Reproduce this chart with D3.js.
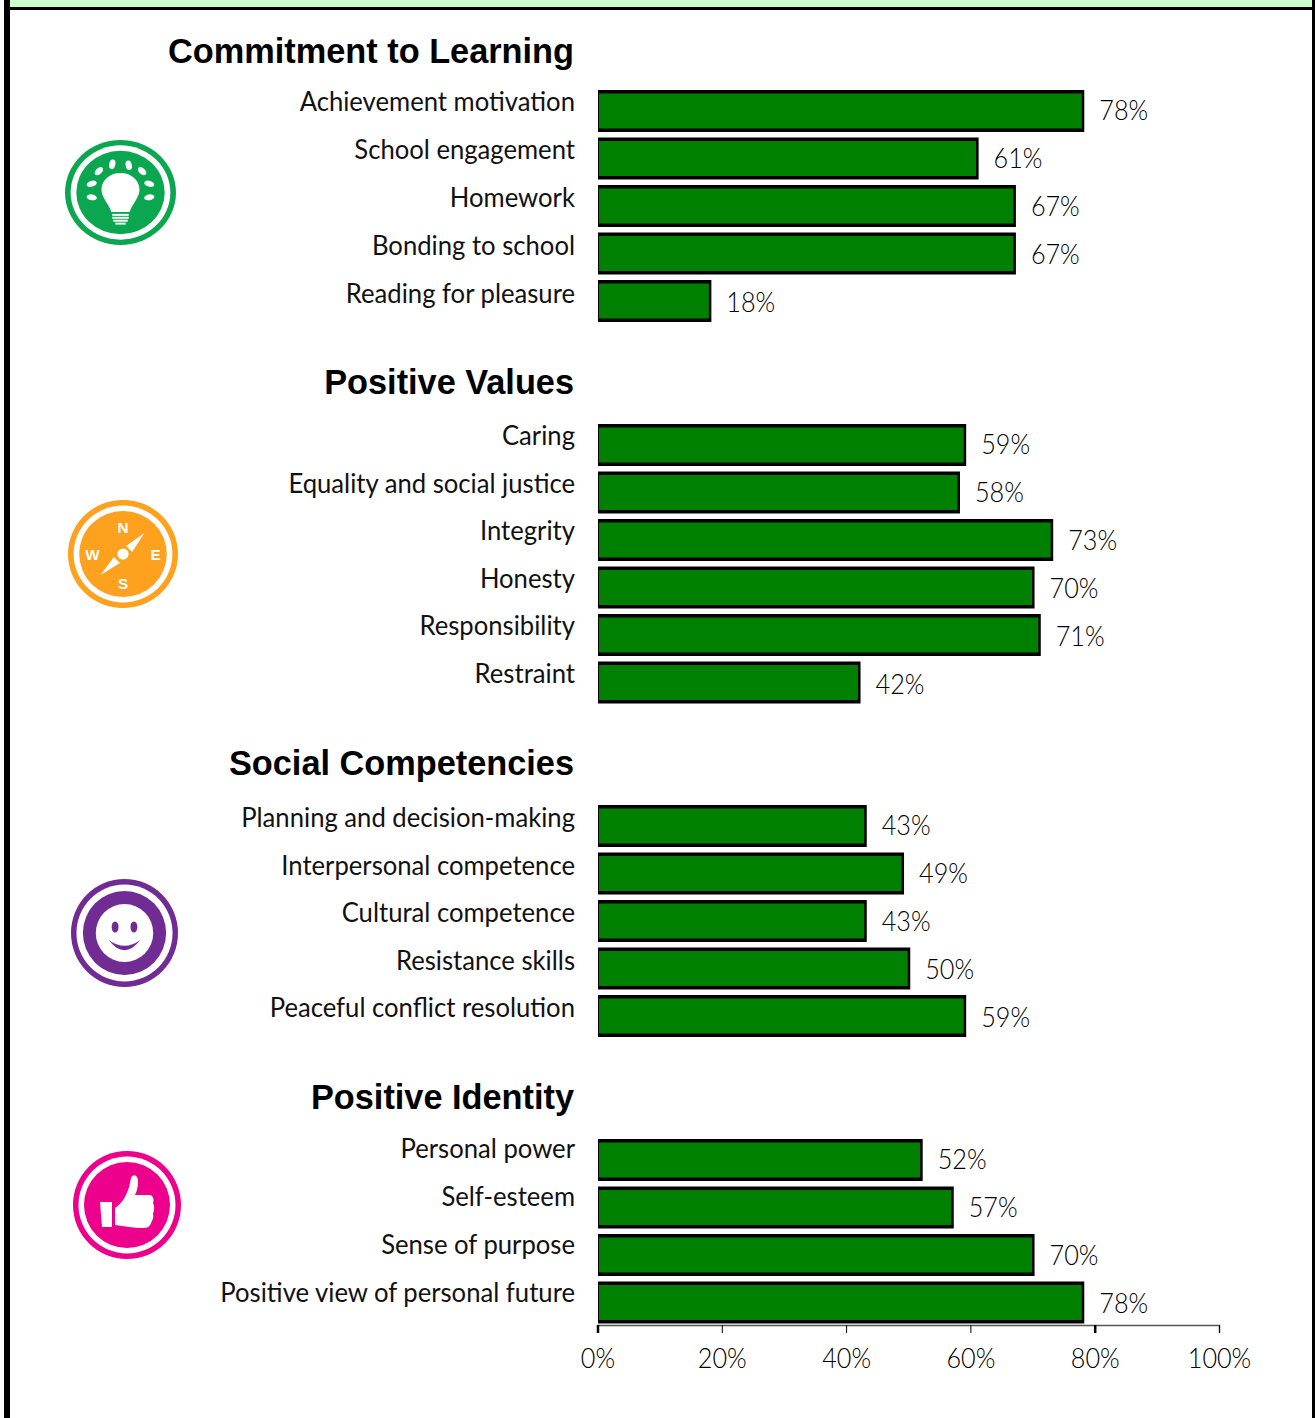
<!DOCTYPE html>
<html>
<head>
<meta charset="utf-8">
<script src="https://cdn.jsdelivr.net/npm/d3@7"></script>
<style>
html, body { margin: 0; padding: 0; background: #fff; overflow: hidden; }
svg { display: block; }
</style>
</head>
<body>
<svg class="chart" width="1315" height="1418"></svg>
<script>
// group titles
const groupTitles = ["Commitment to Learning", "Positive Values", "Social Competencies", "Positive Identity"];

// categories and values per group
const learningLabels = ["Achievement motivation", "School engagement", "Homework", "Bonding to school", "Reading for pleasure"];
const learningValues = [78, 61, 67, 67, 18];
const valuesLabels = ["Caring", "Equality and social justice", "Integrity", "Honesty", "Responsibility", "Restraint"];
const valuesValues = [59, 58, 73, 70, 71, 42];
const socialLabels = ["Planning and decision-making", "Interpersonal competence", "Cultural competence", "Resistance skills", "Peaceful conflict resolution"];
const socialValues = [43, 49, 43, 50, 59];
const identityLabels = ["Personal power", "Self-esteem", "Sense of purpose", "Positive view of personal future"];
const identityValues = [52, 57, 70, 78];

const axisTicks = [0, 20, 40, 60, 80, 100];

const svg = d3.select(".chart");

const W = 1315, H = 1418;
const barStep = 47.5;     // distance between bars
const valueStep = 48;     // value labels run on a slightly wider pitch than the bars
const barHeight = 42;
const labelRight = 575;   // right edge of category labels

const x = d3.scaleLinear().domain([0, 100]).range([597.5, 1219]);

// squeeze text horizontally, the original font is a narrow geometric one
function squeeze(sel, ratio) {
    sel.each(function () {
        const len = this.getComputedTextLength();
        d3.select(this).attr("textLength", len * ratio).attr("lengthAdjust", "spacingAndGlyphs");
    });
}

// band scale with a fixed pitch, first band starts at `start`
function rowScale(names, start, step) {
    return d3.scaleBand().domain(names).range([start, start + step * names.length]);
}

// page frame
svg.append("rect").attr("x", 10).attr("y", 0).attr("width", W - 13).attr("height", 7).style("fill", "#ccffcc");
svg.append("rect").attr("x", 4).attr("y", 7).attr("width", W - 4).attr("height", 3).style("fill", "black");
svg.append("rect").attr("x", 4).attr("y", 0).attr("width", 6).attr("height", H).style("fill", "black");
svg.append("rect").attr("x", W - 3).attr("y", 0).attr("width", 3).attr("height", H).style("fill", "black");

const groups = [
    { title: groupTitles[0], labels: learningLabels, values: learningValues, titleY: 63, barTop: 90, labelY: 111, labelStep: 48, valueY: 120 },
    { title: groupTitles[1], labels: valuesLabels, values: valuesValues, titleY: 394, barTop: 424, labelY: 445, labelStep: 47.5, valueY: 454 },
    { title: groupTitles[2], labels: socialLabels, values: socialValues, titleY: 775, barTop: 805, labelY: 827, labelStep: 47.5, valueY: 835 },
    { title: groupTitles[3], labels: identityLabels, values: identityValues, titleY: 1109, barTop: 1139, labelY: 1158, labelStep: 48, valueY: 1169 }
];

groups.forEach(group => {
    const barY = rowScale(group.labels, group.barTop, barStep);
    const labelY = rowScale(group.labels, group.labelY, group.labelStep);
    const valueY = rowScale(group.labels, group.valueY, valueStep);

    svg.append("text")
        .attr("x", 574)
        .attr("y", group.titleY)
        .attr("text-anchor", "end")
        .style("font-family", "'Liberation Sans', sans-serif")
        .style("font-weight", "bold")
        .style("font-size", "35px")
        .style("fill", "black")
        .text(group.title)
        .call(squeeze, 0.98);

    const rows = group.labels.map((name, i) => ({ name: name, value: group.values[i] }));

    // black bar behind, green fill inside, the outline is uneven in the original
    svg.selectAll(null).data(rows).enter().append("rect")
        .attr("x", x(0) + 0.5)
        .attr("y", d => barY(d.name))
        .attr("width", d => x(d.value) - x(0) + 1.5)
        .attr("height", barHeight)
        .style("fill", "black");
    svg.selectAll(null).data(rows).enter().append("rect")
        .attr("x", x(0) + 1.5)
        .attr("y", d => barY(d.name) + 3.5)
        .attr("width", d => x(d.value) - x(0) - 2)
        .attr("height", barHeight - 7)
        .style("fill", "#008000");

    svg.selectAll(null).data(rows).enter().append("text")
        .attr("x", labelRight)
        .attr("y", d => labelY(d.name))
        .attr("text-anchor", "end")
        .style("font-family", "Lato, sans-serif")
        .style("font-size", "27px")
        .style("fill", "#111")
        .text(d => d.name)
        .call(squeeze, 0.95);

    svg.selectAll(null).data(rows).enter().append("text")
        .attr("x", d => x(d.value) + 17)
        .attr("y", d => valueY(d.name))
        .style("font-family", "Lato, sans-serif")
        .style("font-weight", 300)
        .style("font-size", "28px")
        .style("fill", "#000")
        .text(d => d.value + "%")
        .call(squeeze, 0.9);
});

// x axis
const axis = svg.append("g")
    .attr("transform", "translate(0,1325)")
    .call(d3.axisBottom(x).tickValues(axisTicks).tickSize(8).tickPadding(15).tickFormat(d => d + "%"));
axis.select(".domain").style("stroke", "#555").attr("stroke-width", 1.5);
axis.selectAll(".tick line").style("stroke", "black").attr("stroke-width", d => (d === 0 || d === 80) ? 2.5 : 1);
axis.selectAll(".tick text")
    .style("font-family", "Lato, sans-serif")
    .style("font-weight", 300)
    .style("font-size", "28px")
    .style("fill", "#000")
    .call(squeeze, 0.9);

// icon ring shared by the four badges: outer disc, white ring, inner disc
function badge(cx, cy, rx, ry, colour, inner) {
    const g = svg.append("g").attr("transform", `translate(${cx},${cy}) scale(${rx / 54},${ry / 54})`);
    g.append("circle").attr("r", 54).style("fill", colour);
    g.append("circle").attr("r", 48.5).style("fill", "white");
    g.append("circle").attr("r", inner).style("fill", colour);
    return g;
}

// light bulb
const bulb = badge(120.5, 192.5, 55.5, 52.5, "#0ba750", 43);
bulb.append("path")
    .attr("d", "M0,-20 C-11,-20 -18.5,-12 -18.5,-3 C-18.5,6 -11,12 -9,20 L9,20 C11,12 18.5,6 18.5,-3 C18.5,-12 11,-20 0,-20 Z")
    .style("fill", "white");
[[-8, 22, 16], [-8, 25, 16], [-7, 28, 14], [-5, 31, 10]].forEach(s => {
    bulb.append("rect").attr("x", s[0]).attr("y", s[1]).attr("width", s[2]).attr("height", 2).style("fill", "white");
});
[[-28, 5, -80], [-28, -9, -105], [-21, -22, -135], [-8, -29, -170], [8, -28, 170], [21, -22, 135], [28, -9, 105], [28, 5, 80]].forEach(s => {
    bulb.append("ellipse")
        .attr("rx", 3).attr("ry", 5)
        .attr("transform", `translate(${s[0]},${s[1]}) rotate(${s[2]})`)
        .style("fill", "white");
});

// compass
const compass = badge(123, 554, 55, 54, "#fea11f", 43);
compass.append("circle").attr("r", 5.5).style("fill", "white");
compass.append("path").attr("d", "M21,-21 L9,-2 L3,-8 Z").style("fill", "white");
compass.append("path").attr("d", "M-22,21 L-9,3 L-3,9 Z").style("fill", "white");
[["N", 0, -21], ["S", 0, 35], ["W", -30, 6], ["E", 32, 6]].forEach(s => {
    compass.append("text")
        .attr("x", s[1]).attr("y", s[2])
        .attr("text-anchor", "middle")
        .style("font-family", "'Liberation Sans', sans-serif")
        .style("font-weight", "bold")
        .style("font-size", "15px")
        .style("fill", "white")
        .text(s[0]);
});

// smiley
const smiley = badge(124.5, 933, 53.5, 54, "#712c93", 42);
smiley.append("circle").attr("r", 29).style("fill", "white");
smiley.append("ellipse").attr("cx", -9.5).attr("cy", -6).attr("rx", 3.5).attr("ry", 5.5).style("fill", "#712c93");
smiley.append("ellipse").attr("cx", 9.5).attr("cy", -6).attr("rx", 3.5).attr("ry", 5.5).style("fill", "#712c93");
smiley.append("path").attr("d", "M-16,7 Q0,27.5 16,7 Q0,18.5 -16,7 Z").style("fill", "#712c93");

// thumbs up
const thumb = badge(127, 1205, 54, 54, "#ec008c", 43);
thumb.append("path").attr("d", "M-27,-3 L-15,-3 L-15,22 L-25,22 Z").style("fill", "white");
thumb.append("path")
    .attr("d", "M-12,3 C-6,-1 -3,-6 -1,-10 C2,-16 3,-22 4,-27 C6,-32 11,-30 11,-24 C11,-18 10,-14 8,-10 L23,-10 C27,-9 27,-4 26,-2 C28,2 27,6 26,9 C27,13 25,16 24,18 C23,22 20,23 16,23 C6,23 -2,21 -12,20 Z")
    .style("fill", "white");
</script>
</body>
</html>
